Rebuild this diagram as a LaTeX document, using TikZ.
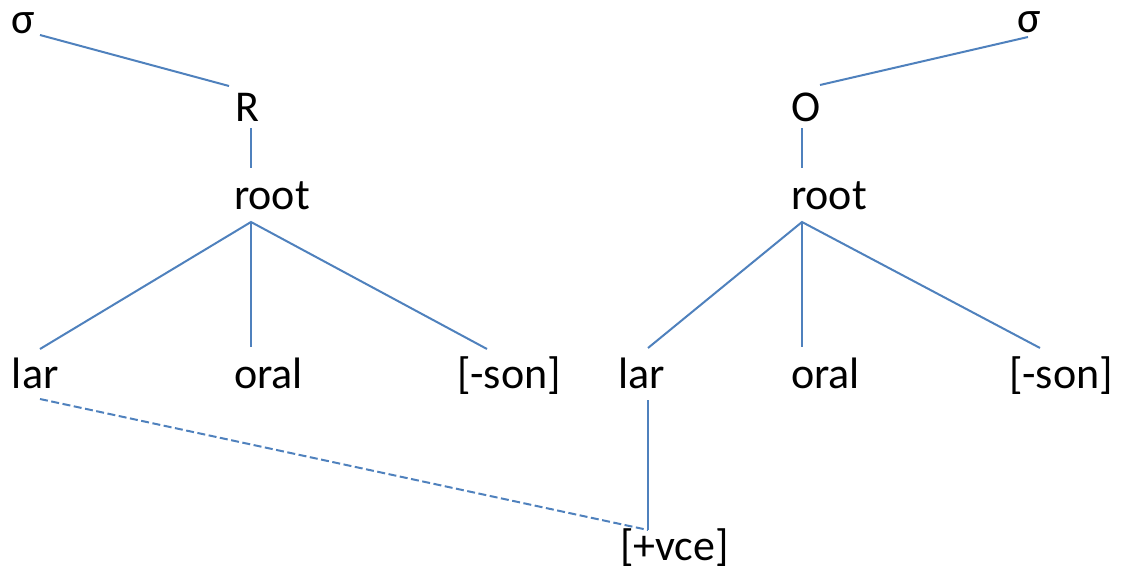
\documentclass[tikz,border=0pt]{standalone}
\usepackage{fontspec}
\setmainfont{Carlito}
\definecolor{linkblue}{RGB}{79,129,189}
\tikzset{
  lbl/.style={anchor=base west, inner sep=0pt, outer sep=0pt, font=\fontsize{44}{50}\selectfont, text=black},
  assoc/.style={draw=linkblue, line width=2pt},
  delinked/.style={draw=linkblue, line width=2pt, dash pattern=on 8pt off 3.5pt}
}
\begin{document}
\begin{tikzpicture}[x=1pt, y=-1pt]
  \useasboundingbox (0,0) rectangle (1122,570);

  % left tree: rhyme
  \node[lbl] (sigL)  at (11,33)   {σ};
  \node[lbl] (R)     at (235,121) {R};
  \node[lbl] (rootL) at (234,209) {root};
  \node[lbl] (larL)  at (12,388)  {lar};
  \node[lbl] (oralL) at (234,388) {oral};
  \node[lbl] (sonL)  at (457,388) {[-son]};

  % right tree: onset
  \node[lbl] (sigR)  at (1017,32) {σ};
  \node[lbl] (O)     at (791,121) {O};
  \node[lbl] (rootR) at (791,209) {root};
  \node[lbl] (larR)  at (618,388) {lar};
  \node[lbl] (oralR) at (791,388) {oral};
  \node[lbl] (sonR)  at (1009,388) {[-son]};

  % shared feature
  \node[lbl] (vce)   at (620,560) {[+vce]};

  % attachment points
  \coordinate (sigL-a)  at (40,35);
  \coordinate (R-t)     at (229,86);
  \coordinate (R-b)     at (251,128);
  \coordinate (rootL-t) at (251,168);
  \coordinate (rootL-b) at (251,222);
  \coordinate (larL-t)  at (40,349);
  \coordinate (larL-b)  at (40,399);
  \coordinate (oralL-t) at (251,347);
  \coordinate (sonL-t)  at (487,349);

  \coordinate (sigR-a)  at (1028,37);
  \coordinate (O-t)     at (820,85);
  \coordinate (O-b)     at (802,128);
  \coordinate (rootR-t) at (802,168);
  \coordinate (rootR-b) at (802,222);
  \coordinate (larR-t)  at (648,348);
  \coordinate (larR-b)  at (648,400);
  \coordinate (oralR-t) at (802,347);
  \coordinate (sonR-t)  at (1040,348);
  \coordinate (vce-t)   at (648,530);

  % association lines
  \draw[assoc] (sigL-a) -- (R-t);
  \draw[assoc] (R-b) -- (rootL-t);
  \draw[assoc] (larL-t) -- (rootL-b) -- (sonL-t);
  \draw[assoc] (rootL-b) -- (oralL-t);

  \draw[assoc] (sigR-a) -- (O-t);
  \draw[assoc] (O-b) -- (rootR-t);
  \draw[assoc] (larR-t) -- (rootR-b) -- (sonR-t);
  \draw[assoc] (rootR-b) -- (oralR-t);

  \draw[assoc] (larR-b) -- (vce-t);
  \draw[delinked] (larL-b) -- (vce-t);
\end{tikzpicture}
\end{document}
